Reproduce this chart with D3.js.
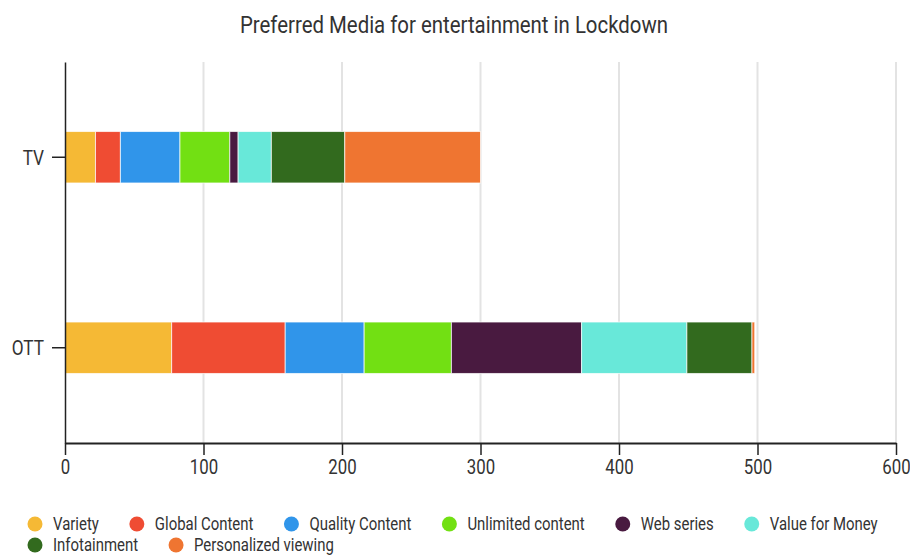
<!DOCTYPE html>
<html>
<head>
<meta charset="utf-8">
<script src="https://cdn.jsdelivr.net/npm/d3@7"></script>
<style>
  body { margin: 0; background: #fff; }
  text { font-family: Roboto, "Noto Sans", sans-serif; }
</style>
</head>
<body>
<div id="chart"></div>
<script>
// values
var categories = ["TV", "OTT"];
var seriesNames = ["Variety", "Global Content", "Quality Content", "Unlimited content",
                   "Web series", "Value for Money", "Infotainment", "Personalized viewing"];
var tvValues  = [22, 18, 43, 36, 6, 24, 53, 98];
var ottValues = [77, 82, 57, 63, 94, 76, 47, 2];
var colors = ["#F5B935", "#EF4C33", "#3095EA", "#72E013", "#491A40", "#68E8D9", "#326A1E", "#EF7531"];
var xTicks = [0, 100, 200, 300, 400, 500, 600];

var width = 910, height = 555,
    margin = {top: 62, right: 14, bottom: 112, left: 65},
    squeeze = 0.82;   // the source font is a condensed one

var svg = d3.select("#chart").append("svg")
    .attr("width", width)
    .attr("height", height);

svg.append("text")
    .attr("transform", "translate(454,33) scale(0.85,1)")
    .attr("text-anchor", "middle")
    .style("font-size", "24px")
    .style("fill", "#333")
    .text("Preferred Media for entertainment in Lockdown");

var g = svg.append("g")
    .attr("transform", "translate(" + margin.left + "," + margin.top + ")");

var w = width - margin.left - margin.right,
    h = height - margin.top - margin.bottom;

var x = d3.scaleLinear().domain([0, 600]).range([0, w]);
var y = d3.scaleBand().domain(categories).range([0, h]).paddingInner(0.73).paddingOuter(0.365);

// grid
g.append("g").selectAll("line")
    .data(xTicks.slice(1))
    .enter().append("line")
      .attr("x1", function(d){ return x(d); })
      .attr("x2", function(d){ return x(d); })
      .attr("y1", 0)
      .attr("y2", h)
      .style("stroke", "#e3e3e3")
      .style("stroke-width", 2);

// stack
var rows = [tvValues, ottValues].map(function(vals, i){
    var r = {cat: categories[i]};
    seriesNames.forEach(function(s, j){ r[s] = vals[j]; });
    return r;
});
var stacked = d3.stack().keys(seriesNames)(rows);

g.append("g").selectAll("g")
    .data(stacked)
    .enter().append("g")
      .style("fill", function(d, i){ return colors[i]; })
    .selectAll("rect")
    .data(function(d){ return d; })
    .enter().append("rect")
      .attr("x", function(d){ return x(d[0]); })
      .attr("width", function(d){ return x(d[1]) - x(d[0]); })
      .attr("y", function(d){ return y(d.data.cat); })
      .attr("height", y.bandwidth())
      .style("stroke", "rgba(255,255,255,0.7)")
      .style("stroke-width", 1);

// axes
var xAxis = g.append("g")
    .attr("transform", "translate(0," + h + ")")
    .call(d3.axisBottom(x).tickValues(xTicks).tickSize(12).tickSizeOuter(0));
xAxis.selectAll("text")
    .style("font-size", "21px").style("fill", "#333")
    .attr("y", 31).attr("dy", 0)
    .attr("transform", "scale(0.8,1)");
xAxis.select(".domain").style("stroke", "#222").style("stroke-width", 2);
xAxis.selectAll(".tick line").style("stroke", "#222").style("stroke-width", 1.5);

var yAxis = g.append("g")
    .call(d3.axisLeft(y).tickSize(13).tickSizeOuter(0));
yAxis.selectAll("text")
    .style("font-size", "21px").style("fill", "#333")
    .attr("x", -21 / squeeze).attr("dy", "0.36em")
    .attr("transform", "scale(" + squeeze + ",1)");
yAxis.select(".domain").style("stroke", "#222").style("stroke-width", 1.5);
yAxis.selectAll(".tick line").style("stroke", "#222").style("stroke-width", 1.5);

// legend, flowing left to right
var legend = svg.append("g").attr("transform", "translate(35,524)");
var lx = 0, ly = 0, maxW = 860, legSqueeze = 0.83;
seriesNames.forEach(function(name, i){
    var item = legend.append("g");
    item.append("circle")
        .attr("r", 7.5)
        .style("fill", colors[i]);
    var t = item.append("text")
        .attr("x", 18 / legSqueeze)
        .attr("dy", "0.36em")
        .attr("transform", "scale(" + legSqueeze + ",1)")
        .style("font-size", "18px")
        .style("fill", "#333")
        .text(name);
    var iw = 18 + t.node().getComputedTextLength() * legSqueeze + 38;
    if (lx + iw - 38 > maxW) { lx = 0; ly += 21; }
    item.attr("transform", "translate(" + lx + "," + ly + ")");
    lx += iw;
});
</script>
</body>
</html>
